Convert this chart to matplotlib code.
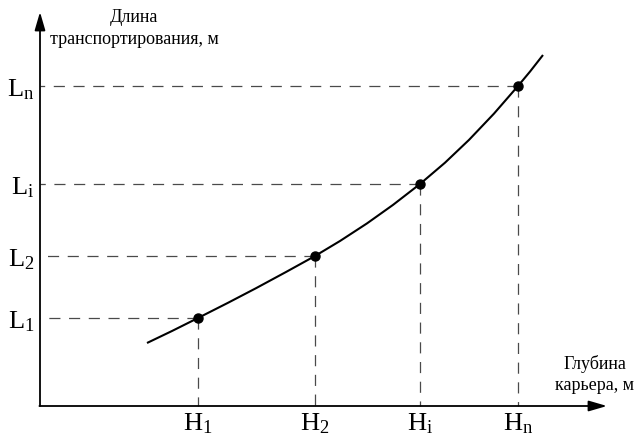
import matplotlib
matplotlib.use("Agg")
import matplotlib.pyplot as plt

plt.rcParams['font.family'] = ['Liberation Serif', 'DejaVu Serif']
plt.rcParams['mathtext.fontset'] = 'custom'
plt.rcParams['mathtext.rm'] = 'Liberation Serif'
plt.rcParams['mathtext.it'] = 'Liberation Serif:italic'
plt.rcParams['lines.scale_dashes'] = False

# Data (arbitrary units)
H_vals = [158, 275, 380, 478]
L_vals = [88, 150, 222, 320]
H_labels = [r'H$_\mathrm{1}$', r'H$_\mathrm{2}$', r'H$_\mathrm{i}$', r'H$_\mathrm{n}$']
L_labels = [r'L$_\mathrm{1}$', r'L$_\mathrm{2}$', r'L$_\mathrm{i}$', r'L$_\mathrm{n}$']
curve_x = [107, 132, 158, 188, 216, 246, 275, 300, 327, 353, 380, 405, 429, 454, 478, 490, 503]
curve_y = [63, 75, 88, 103.2, 117.8, 134, 150, 165, 182.6, 201.1, 222, 243.3, 266.1, 292.4, 320, 334.4, 351]
y_title = ['Длина', 'транспортирования, м']
x_title = ['Глубина', 'карьера, м']

fig = plt.figure(figsize=(6.39, 4.39), dpi=100)
ax = fig.add_axes([0, 0, 1, 1])
ax.set_xlim(-40, 599)
ax.set_ylim(-32, 407)
ax.spines['left'].set_position(('data', 0))
ax.spines['bottom'].set_position(('data', 0))
for s in ax.spines.values():
    s.set_linewidth(0)
    s.set_color('none')

dash_color = '#4a4a4a'

# axes with arrows
arrow_kw = dict(arrowstyle='-|>,head_length=1.1,head_width=0.32',
                mutation_scale=10, color='black', lw=1.3, shrinkA=0, shrinkB=0)
ax.annotate('', xy=(0, 394), xytext=(0, 0), arrowprops=arrow_kw)
ax.annotate('', xy=(567, 0), xytext=(-0.6, 0), arrowprops=arrow_kw)

# dashed guide lines from each point to the axes
for h, l in zip(H_vals, L_vals):
    ax.plot([h, 0], [l, l], color=dash_color, lw=0.9, dashes=(8.0, 6.2))
    ax.plot([h, h], [l, 0], color=dash_color, lw=0.9, dashes=(8.0, 6.2))

# curve
ax.plot(curve_x, curve_y, color='black', lw=1.5, solid_capstyle='butt',
        solid_joinstyle='round')
ax.plot(H_vals, L_vals, 'o', color='black', markersize=6.5, zorder=5)

# ticks
ax.set_xticks(H_vals)
ax.set_xticklabels(H_labels, fontsize=19)
ax.set_yticks(L_vals)
ax.set_yticklabels(L_labels, fontsize=19)
ax.tick_params(axis='x', length=0, pad=3)
ax.tick_params(axis='y', length=0, pad=4)

# titles
ax.text(94, 390, y_title[0], fontsize=13, ha='center', va='center')
ax.text(94, 368, y_title[1], fontsize=13, ha='center', va='center')
ax.text(555, 43, x_title[0], fontsize=13, ha='center', va='center')
ax.text(515, 21, x_title[1], fontsize=13, ha='left', va='center')

fig.savefig('out.png', dpi=100)
